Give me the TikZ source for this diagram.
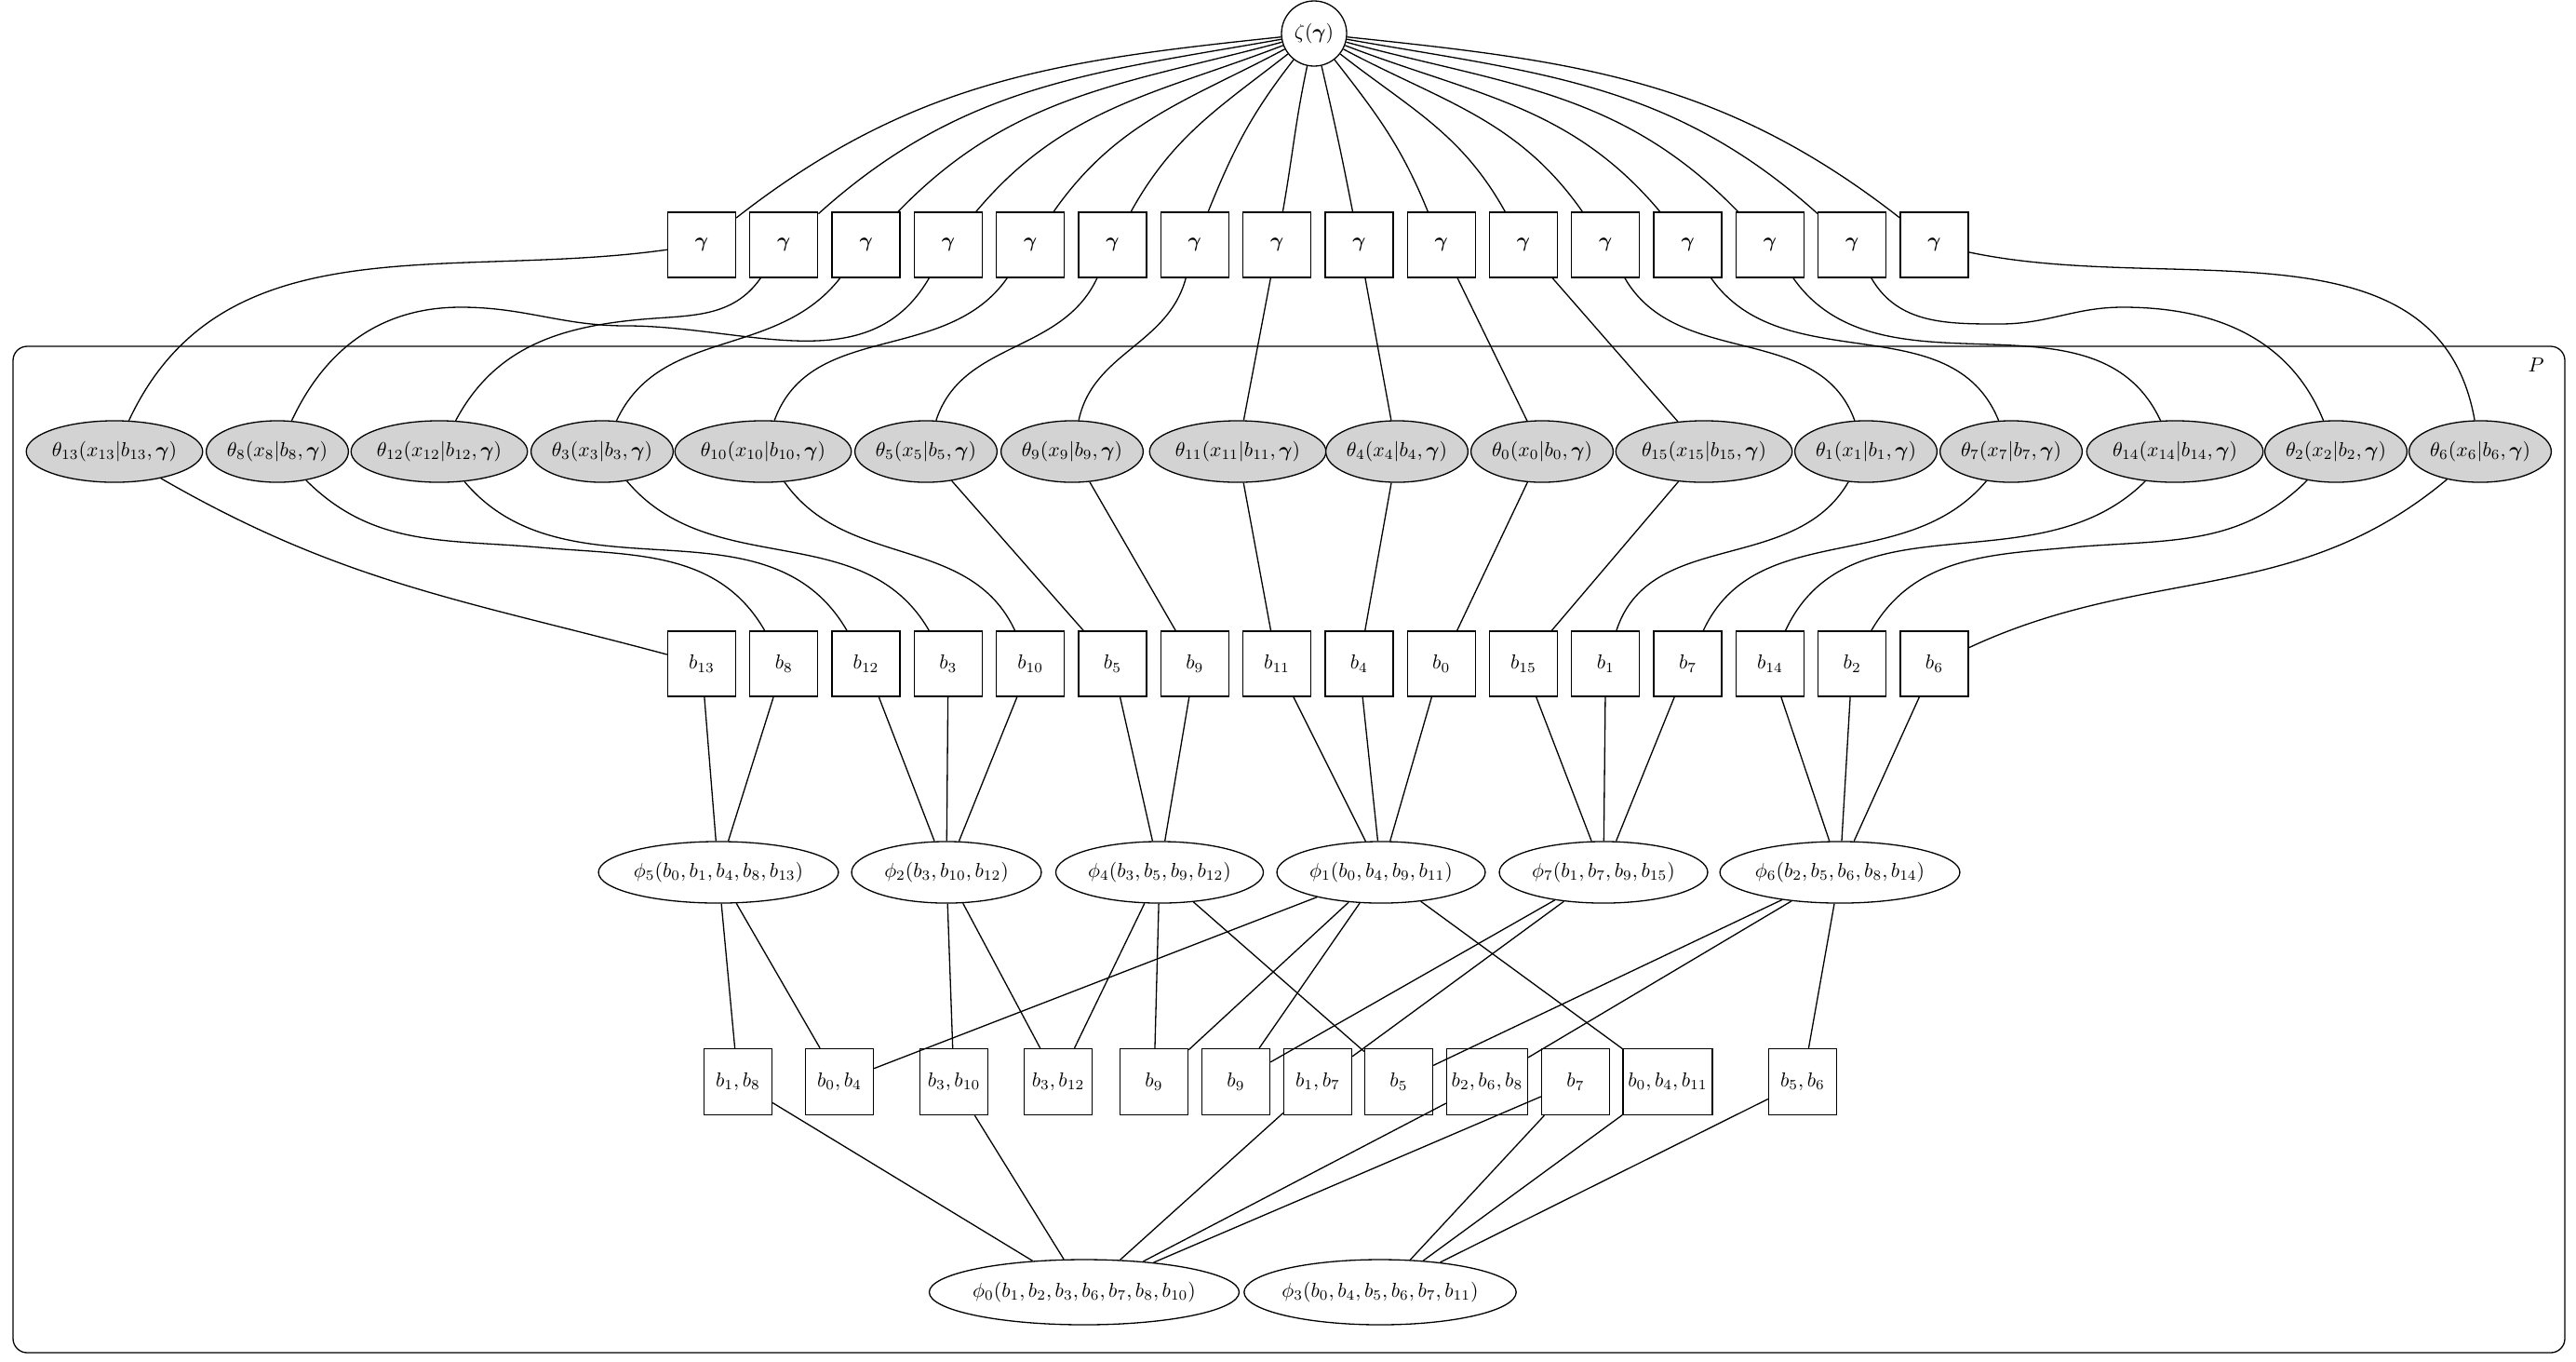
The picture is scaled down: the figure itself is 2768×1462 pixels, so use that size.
\documentclass[tikz,border=0pt]{standalone}
\usepackage{amsmath}
\usetikzlibrary{shapes.geometric}
\definecolor{latgray}{RGB}{211,211,211}

\begin{document}
\begin{tikzpicture}[x=0.46pt, y=0.46pt, line width=0.6pt,
    gbox/.style={draw, fill=white, minimum width=33.6pt, minimum height=32.2pt, inner sep=1pt},
    sbox/.style={draw, fill=white, minimum width=33.6pt, minimum height=32.7pt, inner sep=1pt},
    lat/.style={draw, ellipse, fill=latgray, minimum height=30.4pt, inner sep=0pt},
    fac/.style={draw, ellipse, fill=white, minimum height=30.4pt, inner sep=0pt}]
  \useasboundingbox (0,0) rectangle (2768,-1462);
  % plate
  \draw[rounded corners=7pt] (14,-372) rectangle (2756,-1453);
  \node[inner sep=0pt] (plate) at (2725,-392) {$P$};
  % hyperprior
  \node[draw, circle, minimum size=32.2pt, inner sep=0pt] (zeta) at (1412,-36) {$\zeta(\boldsymbol{\gamma})$};
  \foreach \i in {0,...,15}
    \node[gbox] (gam\i) at ({754+88.3*\i},-263) {$\boldsymbol{\gamma}$};
  \foreach \i/\o/\n in {0/186/38, 1/190/42, 2/195/46, 3/201/50, 4/208/55, 5/218/61, 6/232/68, 7/258/80,
      8/283/101, 9/308/112, 10/322/119, 11/332/125, 12/339/130, 13/345/134, 14/350/138, 15/354/142}
    \draw (zeta) to[out=\o, in=\n] (gam\i);
  % local parameters
  \foreach \n/\xx/\w in {13/123/81.9, 8/298/64.4, 12/472/81.9, 3/647/64.4, 10/820/81.9, 5/995/64.4,
      9/1152/64.4, 11/1330/81.9, 4/1501/64.4, 0/1657/64.4, 15/1831/81.9, 1/2005/64.4,
      7/2161/64.4, 14/2337/81.9, 2/2510/64.4, 6/2665/64.4}
    \node[lat, minimum width=\w pt] (th\n) at (\xx,-485) {$\theta_{\n}(x_{\n}|b_{\n},\boldsymbol{\gamma})$};
  \draw (gam0) to[out=188, in=65] (th13);
  \draw (gam1) to[out=235, in=5] (690,-343) to[out=185, in=62] (th12);
  \draw (gam2) to[out=232, in=65] (th3);
  \draw (gam3) to[out=240, in=0] (673,-350) to[out=180, in=0] (495,-330) to[out=180, in=65] (th8);
  \draw (gam4) to[out=235, in=70] (th10);
  \draw (gam5) to[out=245, in=72] (th5);
  \draw (gam6) to[out=255, in=78] (th9);
  \draw (gam7) -- (th11);
  \draw (gam8) -- (th4);
  \draw (gam9) -- (th0);
  \draw (gam10) -- (th15);
  \draw (gam11) to[out=300, in=110] (th1);
  \draw (gam12) to[out=305, in=112] (th7);
  \draw (gam13) to[out=305, in=115] (th14);
  \draw (gam14) to[out=300, in=180] (2149,-348) to[out=0, in=180] (2281,-330) to[out=0, in=112] (th2);
  \draw (gam15) to[out=-12, in=100] (th6);
  % assignment variables
  \foreach \n [count=\i from 0] in {13,8,12,3,10,5,9,11,4,0,15,1,7,14,2,6}
    \node[gbox] (b\n) at ({754+88.3*\i},-713) {$b_{\n}$};
  \draw (th13) to[out=-30, in=165] (b13);
  \draw (th8) to[out=-45, in=175] (580,-588) to[out=-5, in=120] (b8);
  \draw (th12) to[out=-50, in=120] (b12);
  \draw (th3) to[out=-50, in=120] (b3);
  \draw (th10) to[out=-55, in=115] (b10);
  \foreach \n in {5,9,11,4,0,15}
    \draw (th\n) -- (b\n);
  \draw (th1) to[out=240, in=72] (b1);
  \draw (th7) to[out=230, in=65] (b7);
  \draw (th14) to[out=225, in=65] (b14);
  \draw (th2) to[out=225, in=5] (2225,-588) to[out=185, in=60] (b2);
  \draw (th6) to[out=220, in=25] (b6);
  % cliques
  \node[fac, minimum width=117.3pt] (phi5) at (772,-937) {$\phi_5(b_0,b_1,b_4,b_8,b_{13})$};
  \node[fac, minimum width=93.8pt] (phi2) at (1017,-937) {$\phi_2(b_3,b_{10},b_{12})$};
  \node[fac, minimum width=102.6pt] (phi4) at (1246,-937) {$\phi_4(b_3,b_5,b_9,b_{12})$};
  \node[fac, minimum width=103pt] (phi1) at (1484,-937) {$\phi_1(b_0,b_4,b_9,b_{11})$};
  \node[fac, minimum width=103pt] (phi7) at (1723,-937) {$\phi_7(b_1,b_7,b_9,b_{15})$};
  \node[fac, minimum width=118.2pt] (phi6) at (1977,-937) {$\phi_6(b_2,b_5,b_6,b_8,b_{14})$};
  \foreach \a/\c in {13/5, 8/5, 12/2, 3/2, 10/2, 5/4, 9/4, 11/1, 4/1, 0/1, 15/7, 1/7, 7/7, 14/6, 2/6, 6/6}
    \draw (b\a) -- (phi\c);
  % separators
  \node[sbox] (s18) at (793,-1162) {$b_1,b_8$};
  \node[sbox] (s04) at (902,-1162) {$b_0,b_4$};
  \node[sbox] (s310) at (1025,-1162) {$b_3,b_{10}$};
  \node[sbox] (s312) at (1137,-1162) {$b_3,b_{12}$};
  \node[sbox] (s9a) at (1240,-1162) {$b_9$};
  \node[sbox] (s9b) at (1328,-1162) {$b_9$};
  \node[sbox] (s17) at (1416,-1162) {$b_1,b_7$};
  \node[sbox] (s5) at (1503,-1162) {$b_5$};
  \node[sbox, minimum width=40pt] (s268) at (1598,-1162) {$b_2,b_6,b_8$};
  \node[sbox] (s7) at (1693,-1162) {$b_7$};
  \node[sbox, minimum width=44.2pt] (s0411) at (1792,-1162) {$b_0,b_4,b_{11}$};
  \node[sbox] (s56) at (1937,-1162) {$b_5,b_6$};
  \foreach \c/\s in {5/s18, 5/s04, 2/s310, 2/s312, 4/s312, 4/s9a, 4/s5, 1/s04, 1/s9a, 1/s9b,
      1/s0411, 7/s9b, 7/s17, 6/s5, 6/s268, 6/s56}
    \draw (phi\c) -- (\s);
  % root cliques
  \node[fac, minimum width=145.8pt, minimum height=32.2pt, inner xsep=-1pt] (phi0) at (1165,-1388) {$\phi_0(b_1,b_2,b_3,b_6,b_7,b_8,b_{10})$};
  \node[fac, minimum width=132pt, minimum height=32.2pt, inner xsep=-1pt] (phi3) at (1483,-1388) {$\phi_3(b_0,b_4,b_5,b_6,b_7,b_{11})$};
  \foreach \s/\c in {s18/0, s310/0, s17/0, s268/0, s7/0, s7/3, s0411/3, s56/3}
    \draw (\s) -- (phi\c);
\end{tikzpicture}
\end{document}
